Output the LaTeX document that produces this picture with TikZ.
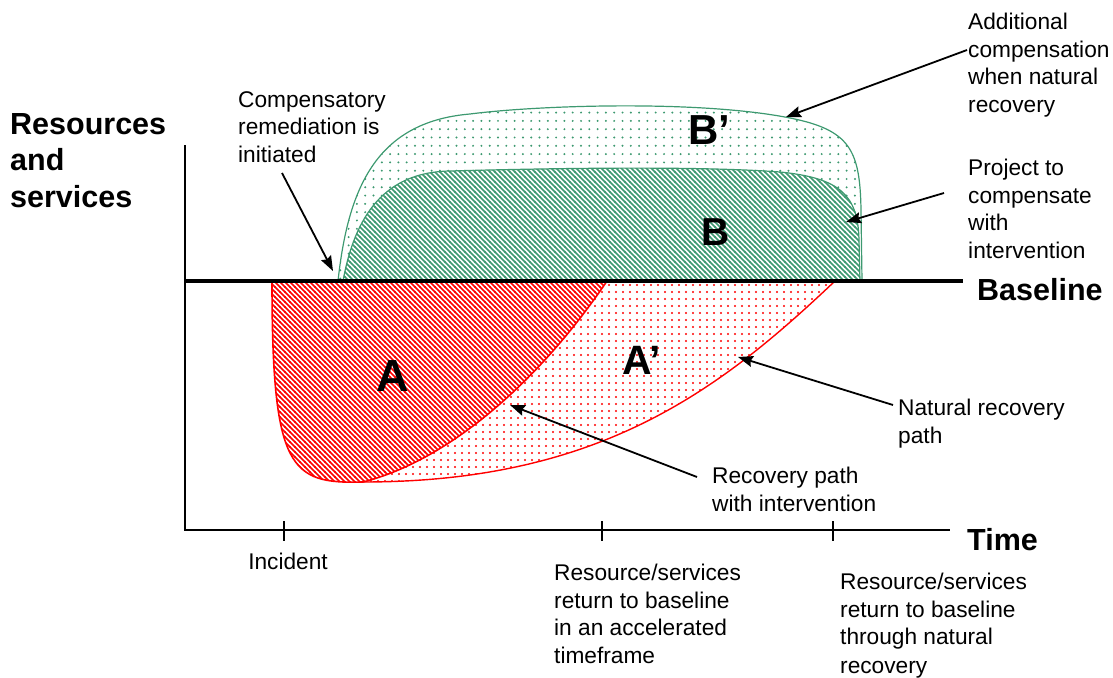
\documentclass[tikz,border=0pt]{standalone}
\usepackage{fontspec}
\setmainfont{Liberation Sans}
\usetikzlibrary{patterns,arrows.meta}

% diagonal "\" hatching
\pgfdeclarepatternformonly{hatchnw}{\pgfqpoint{-1pt}{-1pt}}{\pgfqpoint{6pt}{6pt}}{\pgfqpoint{5pt}{5pt}}{%
  \pgfsetlinewidth{1.7pt}%
  \pgfpathmoveto{\pgfqpoint{-0.5pt}{5.5pt}}%
  \pgfpathlineto{\pgfqpoint{5.5pt}{-0.5pt}}%
  \pgfusepath{stroke}}
% dot grids
\pgfdeclarepatternformonly{dotswide}{\pgfqpoint{-1.5pt}{-1.5pt}}{\pgfqpoint{1.5pt}{1.5pt}}{\pgfqpoint{8.3pt}{8.3pt}}{%
  \pgfpathcircle{\pgfpointorigin}{1.1pt}\pgfusepath{fill}}
\pgfdeclarepatternformonly{dotsnarrow}{\pgfqpoint{-1.5pt}{-1.5pt}}{\pgfqpoint{1.5pt}{1.5pt}}{\pgfqpoint{7pt}{7pt}}{%
  \pgfpathcircle{\pgfpointorigin}{1.1pt}\pgfusepath{fill}}

\definecolor{grn}{RGB}{61,153,112}
\definecolor{rd}{RGB}{255,0,0}

\begin{document}
\begin{tikzpicture}[x=1pt,y=-1pt,
  lbl/.style={align=left,inner sep=0pt,anchor=north west,font=\fontsize{22.7}{27.5}\selectfont},
  head/.style={align=left,inner sep=0pt,anchor=north west,font=\fontsize{30.5}{36.5}\selectfont\bfseries},
  big/.style={inner sep=0pt,font=\bfseries},
  arr/.style={line width=1.8pt,-{Stealth[length=15pt,width=11pt,inset=2pt]}},
  axis/.style={line width=1.4pt},
  tick/.style={line width=1.4pt}]
\useasboundingbox (0,0) rectangle (1113,677);

% ---- green areas (above the baseline) ----
\draw[grn,line width=1.2pt,pattern=dotswide,pattern color=grn]
  (338,281) .. controls (348,190) and (375,122) .. (470,114)
  .. controls (540,105) and (700,100) .. (790,118)
  .. controls (850,130) and (860,150) .. (861,210) -- (862,281) -- cycle;
\draw[grn,line width=1.2pt,preaction={fill=white},pattern=hatchnw,pattern color=grn]
  (343,281) .. controls (355,215) and (385,172) .. (450,171)
  .. controls (560,168) and (700,166) .. (780,172)
  .. controls (840,178) and (858,195) .. (859,240) -- (860,281) -- cycle;

% ---- red areas (below the baseline) ----
\path[pattern=dotsnarrow,pattern color=rd]
  (607,281) -- (835,281) .. controls (720,390) and (600,482) .. (363,482)
  .. controls (450,460) and (540,380) .. (607,281) -- cycle;
\draw[rd,line width=1.6pt,pattern=hatchnw,pattern color=rd]
  (272,281) -- (607,281) .. controls (540,380) and (450,460) .. (363,482)
  .. controls (290,484) and (272,470) .. (272,281) -- cycle;
\draw[rd,line width=1.4pt] (363,482) .. controls (600,482) and (720,390) .. (835,281);

% ---- axes and baseline ----
\coordinate (yTop) at (185,145);
\coordinate (origin) at (185,530);
\coordinate (xEnd) at (950,530);
\draw[axis] (yTop) -- (origin) -- (xEnd);
\coordinate (blL) at (185,281);
\coordinate (blR) at (963,281);
\draw[line width=4pt] (blL) -- (blR);
\foreach \n/\x in {tA/284,tB/602,tC/833}{
  \coordinate (\n u) at (\x,521);
  \coordinate (\n d) at (\x,541);
  \draw[tick] (\n u) -- (\n d);
}

% ---- area letters ----
\node[big,font=\fontsize{45}{45}\selectfont\bfseries] (lA) at (393,376) {A};
\node[big,font=\fontsize{41}{41}\selectfont\bfseries] (lAp) at (642,360) {A’};
\node[big,font=\fontsize{42}{42}\selectfont\bfseries] (lBp) at (709,130) {B’};
\node[big,font=\fontsize{39}{39}\selectfont\bfseries] (lB) at (716,232) {B};

% ---- axis titles ----
\node[head] (yTitle) at (10,113) {Resources\\and\\services};
\node[head] (base) at (977,278) {Baseline};
\node[head] (time) at (967,528) {Time};

% ---- annotations ----
\node[lbl] (comp) at (238,91) {Compensatory\\remediation is\\initiated};
\node[lbl] (addl) at (968,13) {Additional\\compensation\\when natural\\recovery};
\node[lbl] (proj) at (968,159) {Project to\\compensate\\with\\intervention};
\node[lbl] (nat) at (898,399) {Natural recovery\\path};
\node[lbl] (interv) at (712,467) {Recovery path\\with intervention};
\node[lbl,anchor=north] (inc) at (288,553) {Incident};
\node[lbl] (accel) at (554,564) {Resource/services\\return to baseline\\in an accelerated\\timeframe};
\node[lbl] (slow) at (840,573) {Resource/services\\return to baseline\\through natural\\[1pt]recovery};

% ---- pointers ----
\coordinate (compS) at (282,173);  \coordinate (compE) at (333,271);
\coordinate (addlS) at (967,50);   \coordinate (addlE) at (786,117);
\coordinate (projS) at (944,193);  \coordinate (projE) at (846,222);
\coordinate (natS)  at (893,405);  \coordinate (natE)  at (738,357);
\coordinate (intS)  at (697,477);  \coordinate (intE)  at (510,405);
\draw[arr] (compS) -- (compE);
\draw[arr] (addlS) -- (addlE);
\draw[arr] (projS) -- (projE);
\draw[arr] (natS) -- (natE);
\draw[arr] (intS) -- (intE);
\end{tikzpicture}
\end{document}
